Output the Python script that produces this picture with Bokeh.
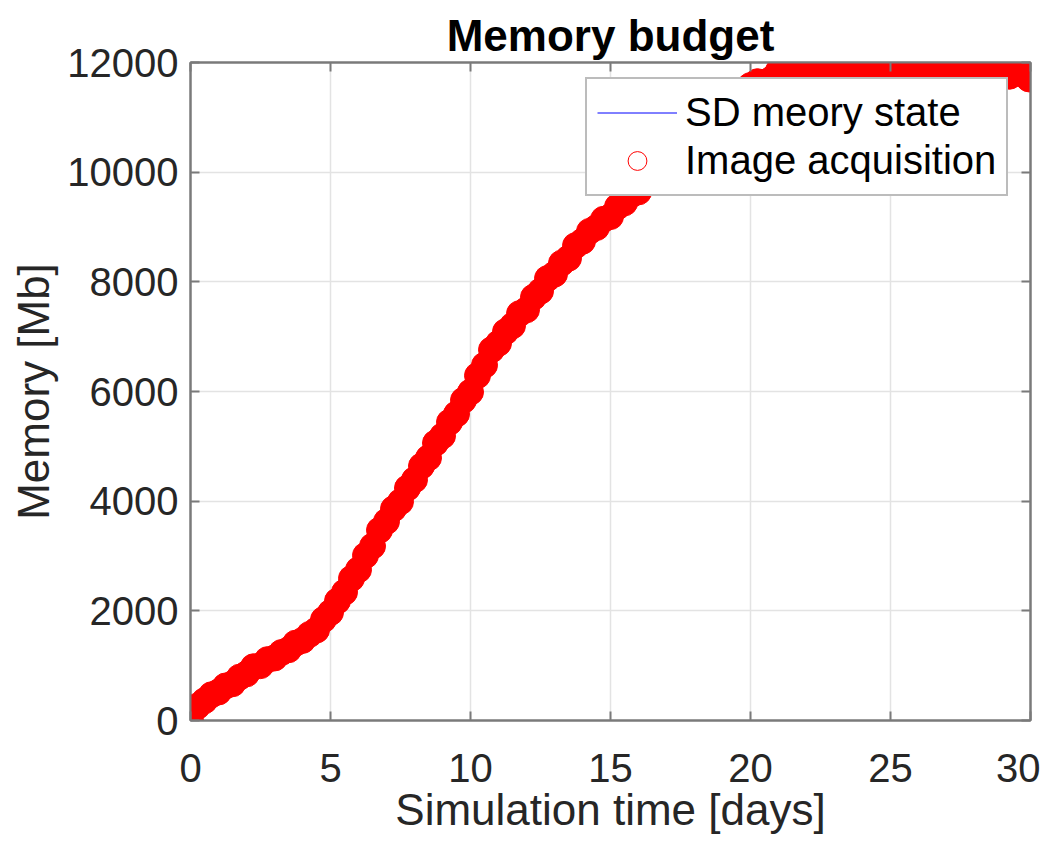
from bokeh.plotting import figure
from bokeh.models import (Range1d, FixedTicker, LinearAxis, Legend, LegendItem,
                          ColumnDataSource, CustomJSTickFormatter)
from bokeh.embed import file_html
from bokeh.resources import INLINE

# ---------------- data ----------------
title_text = "Memory budget"
x_label = "Simulation time [days]"
y_label = "Memory [Mb]"
series_line = "SD meory state"
series_points = "Image acquisition"

x_ticks = [0, 5, 10, 15, 20, 25, 30]
y_ticks = [0, 2000, 4000, 6000, 8000, 10000, 12000]

days = [0.00, 0.25, 0.50, 0.75, 1.00, 1.25, 1.50, 1.75, 2.00, 2.25,
        2.50, 2.75, 3.00, 3.25, 3.50, 3.75, 4.00, 4.25, 4.50, 4.75,
        5.00, 5.25, 5.50, 5.75, 6.00, 6.25, 6.50, 6.75, 7.00, 7.25,
        7.50, 7.75, 8.00, 8.25, 8.50, 8.75, 9.00, 9.25, 9.50, 9.75,
        10.00, 10.25, 10.50, 10.75, 11.00, 11.25, 11.50, 11.75, 12.00, 12.25,
        12.50, 12.75, 13.00, 13.25, 13.50, 13.75, 14.00, 14.25, 14.50, 14.75,
        15.00, 15.25, 15.50, 15.75, 16.00, 16.25, 16.50, 16.75, 17.00, 17.25,
        17.50, 17.75, 18.00, 18.25, 18.50, 18.75, 19.00, 19.25, 19.50, 19.75,
        20.00, 20.25, 20.50, 20.75, 21.00, 21.25, 21.50, 21.75, 22.00, 22.25,
        22.50, 22.75, 23.00, 23.25, 23.50, 23.75, 24.00, 24.25, 24.50, 24.75,
        25.00, 25.25, 25.50, 25.75, 26.00, 26.25, 26.50, 26.75, 27.00, 27.25,
        27.50, 27.75, 28.00, 28.25, 28.50, 28.75, 29.00, 29.25, 29.50, 29.75,
        29.95]

memory = [0, 260, 360, 470, 520, 630, 670, 790, 850, 980,
          1000, 1110, 1140, 1240, 1290, 1410, 1460, 1570, 1650, 1840,
          1970, 2180, 2340, 2590, 2750, 3010, 3180, 3470, 3630, 3860,
          3990, 4240, 4390, 4640, 4790, 5060, 5190, 5440, 5590, 5840,
          5990, 6290, 6480, 6760, 6880, 7090, 7200, 7420, 7490, 7720,
          7830, 8060, 8140, 8340, 8430, 8660, 8740, 8920, 8990, 9140,
          9190, 9370, 9440, 9590, 9640, 9820, 9900, 10080, 10190, 10380,
          10490, 10680, 10790, 10950, 11040, 11200, 11290, 11380, 11430, 11450,
          11580, 11650, 11640, 11700, 11850, 11780, 11880, 11760, 11870, 11750,
          11890, 11770, 11860, 11740, 11880, 11780, 11870, 11750, 11890, 11760,
          11860, 11750, 11880, 11770, 11870, 11740, 11890, 11760, 11860, 11780,
          11880, 11750, 11870, 11760, 11890, 11770, 11860, 11750, 11880, 11780,
          11700]

# ---------------- styling ----------------
FONT = "Liberation Sans"
TXT = "#262626"
AX = "#7a7a7a"

p = figure(width=1040, height=836, output_backend="svg", toolbar_location=None,
           x_range=Range1d(0, 30), y_range=Range1d(0, 12000),
           min_border_left=190, min_border_right=10,
           min_border_top=62, min_border_bottom=116,
           background_fill_color="white", border_fill_color="white")

p.title.text = title_text
p.title.align = "center"
p.title.text_font = FONT
p.title.text_font_size = "44px"
p.title.text_font_style = "bold"
p.title.text_color = "#000000"
p.title.standoff = 6

p.outline_line_color = AX
p.outline_line_width = 2

src = ColumnDataSource(dict(t=days, m=memory))

line_r = p.line("t", "m", source=src, line_color="#0000ff", line_width=1)
legend_pts = p.scatter("t", "m", source=src, marker="circle", size=14,
                       fill_color=None, line_color="#ff0000", line_width=1)
pts_r = p.scatter("t", "m", source=src, marker="circle", size=26,
                  fill_color="#ff0000", line_color="#ff0000", line_width=1)

for ax in (p.xaxis[0], p.yaxis[0]):
    ax.major_tick_in = 9
    ax.major_tick_out = 0
    ax.minor_tick_in = 0
    ax.minor_tick_out = 0
    ax.major_tick_line_color = AX
    ax.major_tick_line_width = 2
    ax.axis_line_color = AX
    ax.axis_line_width = 2
    ax.major_label_text_font = FONT
    ax.major_label_text_font_size = "40px"
    ax.major_label_text_color = TXT
    ax.axis_label_text_font = FONT
    ax.axis_label_text_font_size = "44px"
    ax.axis_label_text_font_style = "normal"
    ax.axis_label_text_color = TXT

p.xaxis.ticker = FixedTicker(ticks=x_ticks)
p.yaxis.ticker = FixedTicker(ticks=y_ticks)
p.xaxis.axis_label = x_label
p.yaxis.axis_label = y_label
p.xaxis.major_label_standoff = 33
p.yaxis.major_label_standoff = 12
p.xaxis.axis_label_standoff = 0
p.yaxis.axis_label_standoff = 6

# box ticks on top and right (no labels)
top_ax = LinearAxis(ticker=FixedTicker(ticks=x_ticks),
                    formatter=CustomJSTickFormatter(code="return ''"))
right_ax = LinearAxis(ticker=FixedTicker(ticks=y_ticks),
                      formatter=CustomJSTickFormatter(code="return ''"))
for ax in (top_ax, right_ax):
    ax.major_tick_in = 9
    ax.major_tick_out = 0
    ax.minor_tick_in = 0
    ax.minor_tick_out = 0
    ax.major_tick_line_color = AX
    ax.major_tick_line_width = 2
    ax.axis_line_color = AX
    ax.axis_line_width = 2
    ax.major_label_standoff = 0
    ax.major_label_text_font_size = "1px"
p.add_layout(top_ax, "above")
p.add_layout(right_ax, "right")

p.xgrid.ticker = FixedTicker(ticks=x_ticks)
p.ygrid.ticker = FixedTicker(ticks=y_ticks)
p.grid.grid_line_color = "#e3e3e3"
p.grid.grid_line_width = 1.5

legend = Legend(items=[LegendItem(label=series_line, renderers=[line_r]),
                       LegendItem(label=series_points, renderers=[legend_pts])],
                location=(395, 524))
legend.label_text_font = FONT
legend.label_text_font_size = "40px"
legend.label_text_color = "#000000"
legend.glyph_width = 80
legend.glyph_height = 47
legend.label_height = 47
legend.label_standoff = 8
legend.spacing = 1
legend.padding = 10
legend.margin = 0
legend.border_line_color = AX
legend.border_line_width = 2
legend.background_fill_color = "white"
legend.background_fill_alpha = 1.0
p.add_layout(legend)

open("out.html", "w").write(file_html(p, INLINE))
